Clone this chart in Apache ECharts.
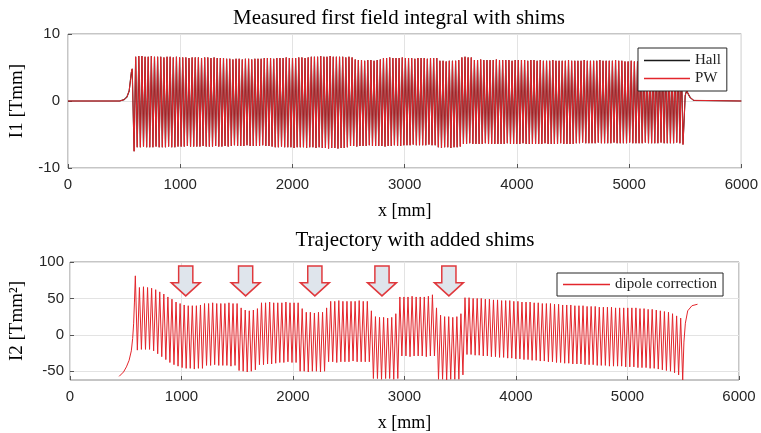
<!DOCTYPE html>
<html>
<head>
<meta charset="utf-8">
<script src="https://cdn.jsdelivr.net/npm/echarts@6/dist/echarts.min.js"></script>
<style>
  html, body { margin: 0; padding: 0; background: #fff; }
  #chart { width: 761px; height: 433px; }
</style>
</head>
<body>
<div id="chart"></div>
<script>
// ---- values ----
const xTicks = [0, 1000, 2000, 3000, 4000, 5000, 6000];
const i1Ticks = [-10, 0, 10];
const i2Ticks = [-50, 0, 50, 100];

// I1: entry ramp, then trough/peak per period, then exit
const i1Period = 27.95;          // mm between successive troughs
const i1LeadX = [0, 460, 500, 525, 545, 557, 565, 572];
const i1LeadY = [0, 0, 0.2, 0.6, 1.5, 3.2, 4.3, 4.8];
const i1FirstTrough = 589;       // mm
const i1FirstPeak = 603;         // mm
const i1Troughs = [
  -7.5,
  -6.9, -6.9, -6.8, -6.9, -6.9, -6.9, -6.8, -6.9, -6.9, -6.9, -6.8, -6.9, -6.9, -6.8,
  -6.8, -6.8, -6.7, -6.8, -6.8, -6.8, -6.8, -6.7, -6.8, -6.8, -6.8, -6.7, -6.8, -6.8, -6.7, -6.8,
  -6.7, -6.6, -6.7, -6.7, -6.7, -6.6, -6.7, -6.7, -6.7, -6.7, -6.6, -6.7, -6.7, -6.8,
  -6.9, -6.9, -6.8, -6.9, -6.9, -6.9, -7.0, -6.9, -6.9, -6.9, -7.0, -6.9, -6.9, -7.0, -6.9, -7.0,
  -7.0, -7.1, -7.0, -7.0, -7.1, -7.0, -7.0, -6.9,
  -6.7, -6.7, -6.8, -6.7, -6.7, -6.7, -6.6, -6.7, -6.7, -6.7, -6.7, -6.8, -6.7, -6.7, -6.6, -6.7, -6.7,
  -6.6, -6.6, -6.6, -6.5, -6.6, -6.6, -6.6, -6.6, -6.5, -6.6, -6.6,
  -6.9, -7.0, -6.9, -6.9, -7.0, -6.9, -6.9, -6.8,
  -6.4, -6.4, -6.3, -6.4, -6.4, -6.4, -6.4, -6.3, -6.4, -6.4, -6.4, -6.4,
  -6.4, -6.4, -6.3, -6.4, -6.4, -6.4, -6.4, -6.3, -6.4, -6.4, -6.4, -6.4,
  -6.4, -6.4, -6.3, -6.4, -6.4, -6.4, -6.4, -6.3, -6.4, -6.4, -6.4, -6.4,
  -6.3, -6.3, -6.2, -6.3, -6.3, -6.3, -6.3, -6.2, -6.3, -6.3,
  -6.3, -6.3, -6.2, -6.3, -6.3, -6.3, -6.3, -6.2, -6.3, -6.3,
  -6.3, -6.3, -6.2, -6.3, -6.3, -6.3, -6.3, -6.2, -6.3, -6.3,
  -6.3, -6.3, -6.2, -6.3,
  -6.5
];
const i1Peaks = [
  6.6, 6.7, 6.7, 6.6, 6.6, 6.7, 6.6, 6.6, 6.6, 6.5, 6.6, 6.6, 6.5, 6.6, 6.5,
  6.5, 6.5, 6.4, 6.5, 6.5, 6.5, 6.4, 6.5, 6.5, 6.4, 6.5, 6.4, 6.4, 6.4,
  6.3, 6.3, 6.2, 6.3, 6.3, 6.2, 6.3, 6.3, 6.2, 6.3, 6.3, 6.3,
  6.4, 6.4, 6.4, 6.3, 6.4, 6.4, 6.4, 6.5, 6.4, 6.4, 6.4, 6.5, 6.5, 6.4, 6.5,
  6.6, 6.6, 6.6, 6.7, 6.6, 6.6, 6.7, 6.6, 6.6, 6.6, 6.6, 6.5, 6.6, 6.5,
  6.2, 6.1, 6.1, 6.0, 6.1, 6.1, 6.0, 6.1, 6.2,
  6.4, 6.4, 6.5, 6.4, 6.4, 6.4, 6.5, 6.4, 6.4, 6.4, 6.3, 6.4, 6.4, 6.4, 6.3, 6.4, 6.4, 6.4,
  6.0, 6.0, 5.9, 6.0, 6.0, 6.0, 6.1,
  6.5, 6.6, 6.5, 6.5,
  6.1, 6.1, 6.2, 6.1, 6.1, 6.1, 6.1, 6.2, 6.1, 6.1, 6.1, 6.1, 6.0, 6.1, 6.1, 6.1, 6.1, 6.0, 6.1, 6.1, 6.0, 6.1, 6.0,
  6.0, 6.0, 6.1, 6.0, 6.0, 6.0, 6.0, 6.1, 6.0, 6.0, 6.0, 6.0, 6.1, 6.0, 6.0,
  6.0, 6.0, 6.1, 6.0, 6.0, 6.0, 6.0, 6.1, 6.0, 6.0,
  5.9, 5.9, 6.0, 5.9, 5.9, 5.9, 5.9, 6.0, 5.9, 5.9, 5.9, 5.9, 6.0, 5.9, 5.9,
  5.9, 5.9, 5.8, 5.9
];
const i1TailX = [5500, 5513, 5525, 5545, 5575, 6000];
const i1TailY = [0.8, 1.6, 1.1, 0.5, 0.1, 0];

// I2: entry ramp, then peak/trough per period, then exit
const i2Period = 36.5;
const i2LeadX = [441, 480, 506, 530, 550, 562, 571, 578];
const i2LeadY = [-57, -51, -44, -35, -22, -5, 16, 45];
const i2FirstPeak = 586;
const i2FirstTrough = 604;
const i2Peaks = [
  81,
  65, 66, 65, 64,
  62, 59, 56, 52, 49, 45, 43,
  41, 40, 40, 40, 41,
  43, 43, 44, 43, 43, 43, 44, 43, 43,
  37, 34, 33, 34, 36,
  44, 44, 45, 44, 44, 44, 45, 44, 44, 44,
  36, 31, 31, 30, 31, 31, 37,
  46, 46, 47, 46, 46, 46, 46, 47, 46, 46,
  33, 25, 24, 24, 23, 24, 29,
  52, 52, 52, 53, 52, 52, 52, 53, 55,
  37, 27, 25, 25, 24, 25, 29,
  51, 51, 50, 50, 50, 49, 49, 48, 48, 47, 47, 47, 46,
  46, 45, 45, 45, 44, 44, 43, 43, 43, 42, 42, 41, 41, 41,
  40, 40, 40, 39, 39, 39, 38, 38, 38, 38, 37, 37, 37, 37,
  37, 37, 36, 36, 35, 35, 34, 33, 32, 31, 29, 26, 23
];
const i2Troughs = [
  -21, -20, -20, -20,
  -22, -26, -30, -34, -38, -41, -43, -45,
  -46, -46, -47, -46, -46,
  -42, -42, -41, -42, -42, -42, -43, -42,
  -49, -50, -51, -50, -48,
  -41, -41, -40, -40, -39, -38, -38, -37, -38, -38,
  -50, -50, -51, -50, -50, -51, -50,
  -37, -37, -38, -37, -37, -37, -36, -37, -37, -37, -37,
  -60, -60, -61, -60, -60, -61, -60,
  -29, -29, -30, -29, -29, -29, -30, -29, -29,
  -61, -61, -62, -61, -61, -61, -55,
  -27, -27, -28, -28, -29, -29, -30, -30, -31, -31, -32, -32, -33,
  -33, -34, -34, -35, -35, -36, -36, -37, -37, -38, -38, -39, -39, -40,
  -40, -40, -41, -41, -41, -42, -42, -42, -43, -43, -43, -43, -44, -44,
  -44, -45, -45, -45, -46, -46, -47, -48, -49, -50, -52, -55, -62
];
const i2TailX = [5506, 5519, 5540, 5578, 5628];
const i2TailY = [-10, 16, 33, 40, 42];

// shim positions marked with arrows (mm) and arrow centre height
const shimX = [1038, 1575, 2196, 2798, 3398];
const shimArrowY = 74;

// ---- build line data ----
function checkLen(name, arr, n) {
  if (arr.length !== n) throw new Error(name + ' has ' + arr.length + ', expected ' + n);
}
checkLen('i1Troughs', i1Troughs, 176);
checkLen('i1Peaks', i1Peaks, 175);
checkLen('i2Peaks', i2Peaks, 135);
checkLen('i2Troughs', i2Troughs, 135);

// alternate two extrema lists, each one period apart
function buildTrace(period, leadX, leadY, firstA, listA, firstB, listB, tailX, tailY) {
  const pts = leadX.map((x, i) => [x, leadY[i]]);
  const n = Math.max(listA.length, listB.length);
  for (let k = 0; k < n; k++) {
    if (k < listA.length) pts.push([firstA + k * period, listA[k]]);
    if (k < listB.length) pts.push([firstB + k * period, listB[k]]);
  }
  tailX.forEach((x, i) => pts.push([x, tailY[i]]));
  return pts;
}

const i1Data = buildTrace(i1Period, i1LeadX, i1LeadY, i1FirstTrough, i1Troughs, i1FirstPeak, i1Peaks, i1TailX, i1TailY);
const i2Data = buildTrace(i2Period, i2LeadX, i2LeadY, i2FirstPeak, i2Peaks, i2FirstTrough, i2Troughs, i2TailX, i2TailY);

const serif = 'Liberation Serif';
const sans = 'Liberation Sans';
const red = '#e3262c';

function xAxisFor(gridIndex, nameGap) {
  return {
    type: 'value', gridIndex: gridIndex,
    min: xTicks[0], max: xTicks[xTicks.length - 1], interval: 1000,
    name: 'x [mm]', nameLocation: 'middle', nameGap: nameGap,
    nameTextStyle: { fontFamily: serif, fontSize: 18, color: '#000' },
    axisLine: { show: false, onZero: false },
    axisTick: { inside: true, length: 4, lineStyle: { color: '#555' } },
    axisLabel: { fontFamily: sans, fontSize: 15, color: '#262626', margin: 9, formatter: v => String(v) },
    splitLine: { show: true, lineStyle: { color: '#e3e3e3', width: 1 } }
  };
}

const chart = echarts.init(document.getElementById('chart'), null, { renderer: 'canvas' });

chart.setOption({
  animation: false,
  backgroundColor: '#fff',
  title: [
    {
      text: 'Measured first field integral with shims',
      left: 394, top: 3, textAlign: 'center',
      textStyle: { fontFamily: serif, fontSize: 21, fontWeight: 'normal', color: '#000' }
    },
    {
      text: 'Trajectory with added shims',
      left: 410, top: 225, textAlign: 'center',
      textStyle: { fontFamily: serif, fontSize: 21, fontWeight: 'normal', color: '#000' }
    }
  ],
  legend: [
    {
      orient: 'vertical', left: 638, top: 48,
      data: ['Hall', 'PW'],
      icon: 'rect', itemWidth: 46, itemHeight: 1.5, itemGap: 3,
      padding: [5, 6, 5, 6],
      backgroundColor: '#fff', borderColor: '#262626', borderWidth: 1,
      textStyle: { fontFamily: serif, fontSize: 15, color: '#222' }
    },
    {
      orient: 'vertical', left: 557, top: 273,
      data: ['dipole correction'],
      icon: 'rect', itemWidth: 47, itemHeight: 1.5,
      padding: [4, 6, 4, 6],
      backgroundColor: '#fff', borderColor: '#262626', borderWidth: 1,
      textStyle: { fontFamily: serif, fontSize: 15, color: '#222' }
    }
  ],
  grid: [
    { left: 61, top: 34, width: 681, height: 134, show: true, borderColor: '#8c8c8c', borderWidth: 1 },
    { left: 63, top: 262, width: 676, height: 126, show: true, borderColor: '#8c8c8c', borderWidth: 1 }
  ],
  xAxis: [xAxisFor(0, 34), xAxisFor(1, 34)],
  yAxis: [
    {
      type: 'value', gridIndex: 0,
      min: i1Ticks[0], max: i1Ticks[i1Ticks.length - 1], interval: 10,
      name: 'I1 [Tmm]', nameLocation: 'middle', nameGap: 41, nameRotate: 90,
      nameTextStyle: { fontFamily: serif, fontSize: 19, color: '#000' },
      axisLine: { show: false, onZero: false },
      axisTick: { inside: true, length: 4, lineStyle: { color: '#555' } },
      axisLabel: { fontFamily: sans, fontSize: 15, color: '#262626', margin: 8 },
      splitLine: { show: true, lineStyle: { color: '#e3e3e3', width: 1 } }
    },
    {
      type: 'value', gridIndex: 1,
      min: -62, max: 100,
      name: 'I2 [Tmm²]', nameLocation: 'middle', nameGap: 43, nameRotate: 90,
      nameTextStyle: { fontFamily: serif, fontSize: 19, color: '#000' },
      axisLine: { show: false, onZero: false },
      axisTick: { inside: true, length: 4, customValues: i2Ticks, lineStyle: { color: '#555' } },
      axisLabel: { fontFamily: sans, fontSize: 15, color: '#262626', margin: 6, customValues: i2Ticks },
      splitLine: { show: true, lineStyle: { color: '#e3e3e3', width: 1 } }
    }
  ],
  series: [
    {
      name: 'Hall', type: 'line', xAxisIndex: 0, yAxisIndex: 0,
      data: i1Data, showSymbol: false, symbol: 'none',
      lineStyle: { color: '#1a1a1a', width: 1.15 }, itemStyle: { color: '#1a1a1a' }
    },
    {
      name: 'PW', type: 'line', xAxisIndex: 0, yAxisIndex: 0,
      data: i1Data, showSymbol: false, symbol: 'none',
      lineStyle: { color: red, width: 1 }, itemStyle: { color: red }
    },
    {
      name: 'dipole correction', type: 'line', xAxisIndex: 1, yAxisIndex: 1,
      data: i2Data, showSymbol: false, symbol: 'none',
      lineStyle: { color: red, width: 1 }, itemStyle: { color: red },
      markPoint: {
        symbol: 'path://M7.3,0 L21.3,0 L21.3,16.7 L28.6,16.7 L14.3,30 L0,16.7 L7.3,16.7 Z',
        symbolSize: [29, 30],
        label: { show: false },
        itemStyle: { color: '#dfe5ec', borderColor: '#e0383c', borderWidth: 1.5 },
        data: shimX.map(x => ({ coord: [x, shimArrowY] }))
      }
    }
  ]
});
</script>
</body>
</html>
